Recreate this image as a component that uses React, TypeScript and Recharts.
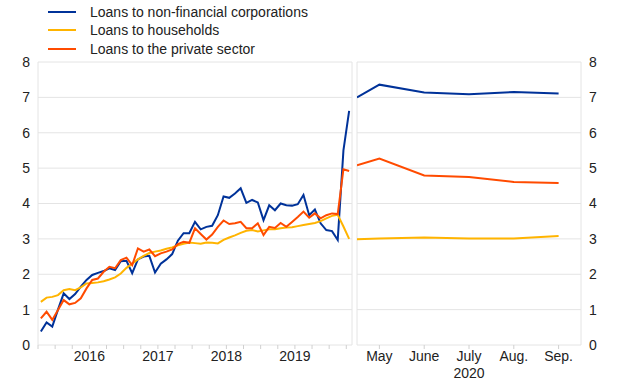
import React from 'react';
import { LineChart, Line, XAxis, YAxis, CartesianGrid } from 'recharts';

const BLUE = '#003299';
const YELLOW = '#FFB400';
const ORANGE = '#FF4B00';
const FONT = '"Liberation Sans", Arial, sans-serif';
const TEXT = '#222222';
const GRID = '#e4e4e4';

// Left panel: monthly, Oct 2015 .. Apr 2020
const leftStartYear = 2015;
const leftStartMonth = 10;
const nfcLeft = [
  0.38, 0.64, 0.52, 1.0, 1.46, 1.3, 1.44, 1.65, 1.84, 1.98,
  2.04, 2.09, 2.17, 2.12, 2.37, 2.38, 2.03, 2.42, 2.5, 2.52,
  2.05, 2.3, 2.42, 2.57, 2.95, 3.16, 3.16, 3.48, 3.27, 3.34,
  3.37, 3.67, 4.2, 4.16, 4.28, 4.43, 4.02, 4.1, 4.03, 3.53,
  3.95, 3.81, 4.0, 3.95, 3.94, 3.98, 4.24, 3.67, 3.83, 3.44,
  3.25, 3.22, 2.97, 5.5, 6.62,
];
const hhLeft = [
  1.22, 1.34, 1.36, 1.41, 1.55, 1.58, 1.55, 1.63, 1.74, 1.75,
  1.77, 1.8, 1.85, 1.91, 2.02, 2.18, 2.3, 2.42, 2.52, 2.6,
  2.64, 2.67, 2.72, 2.76, 2.82, 2.86, 2.9, 2.88, 2.86, 2.9,
  2.89, 2.87, 2.97, 3.04, 3.1, 3.17, 3.23, 3.25, 3.21, 3.24,
  3.27, 3.27, 3.3, 3.32, 3.33, 3.36, 3.39, 3.42, 3.45, 3.5,
  3.58, 3.65, 3.68, 3.35, 3.0,
];
const psLeft = [
  0.75, 0.94, 0.71, 0.99, 1.27, 1.15, 1.19, 1.32, 1.6, 1.84,
  1.88, 2.07, 2.21, 2.17, 2.4, 2.47, 2.26, 2.73, 2.64, 2.7,
  2.51, 2.59, 2.64, 2.7, 2.85, 2.92, 2.89, 3.3, 3.14, 2.98,
  3.12, 3.34, 3.52, 3.42, 3.44, 3.48, 3.3, 3.3, 3.44, 3.11,
  3.34, 3.31, 3.45, 3.34, 3.48, 3.62, 3.77, 3.6, 3.72, 3.58,
  3.67, 3.72, 3.7, 4.97, 4.92,
];
const yearLabels = ['2016', '2017', '2018', '2019'];

// Right panel: 2020, month numbers (4.5 = end of April)
const rightMonths = [4.5, 5, 6, 7, 8, 9];
const rightMonthLabels = ['May', 'June', 'July', 'Aug.', 'Sep.'];
const rightLabelMonths = [5, 6, 7, 8, 9];
const rightYearLabel = '2020';
const nfcRight = [7.0, 7.36, 7.14, 7.09, 7.15, 7.11];
const hhRight = [2.99, 3.01, 3.04, 3.01, 3.01, 3.08];
const psRight = [5.08, 5.27, 4.79, 4.75, 4.61, 4.58];

const yTicks = [0, 1, 2, 3, 4, 5, 6, 7, 8];

const legendItems = [
  { name: 'Loans to non-financial corporations', color: BLUE },
  { name: 'Loans to households', color: YELLOW },
  { name: 'Loans to the private sector', color: ORANGE },
];

const leftData = nfcLeft.map((v, i) => ({ i, nfc: v, hh: hhLeft[i], ps: psLeft[i] }));
const rightData = rightMonths.map((m, k) => ({ m, nfc: nfcRight[k], hh: hhRight[k], ps: psRight[k] }));

const n = nfcLeft.length;
// index position of 1 July of each labelled year (centre of year)
const yearCenters = yearLabels.map((y) => (Number(y) - leftStartYear) * 12 + 7 - leftStartMonth - 0.5);
const quarterTicks: number[] = [];
for (let t = -0.5; t <= n - 0.5 + 1e-9; t += 3) quarterTicks.push(t);

const LeftTick = (props: any) => {
  const { x, y, payload } = props;
  const idx = yearCenters.indexOf(payload.value);
  if (idx < 0) return <g />;
  return (
    <text x={x} y={y + 10} textAnchor="middle" fill={TEXT} fontSize={14} fontFamily={FONT}>
      {yearLabels[idx]}
    </text>
  );
};

const RightTick = (props: any) => {
  const { x, y, payload } = props;
  const idx = rightLabelMonths.indexOf(payload.value);
  if (idx < 0) return <g />;
  return (
    <g>
      <text x={x} y={y + 10} textAnchor="middle" fill={TEXT} fontSize={14} fontFamily={FONT}>
        {rightMonthLabels[idx]}
      </text>
      {payload.value === 7 && (
        <text x={x} y={y + 27} textAnchor="middle" fill={TEXT} fontSize={14} fontFamily={FONT}>
          {rightYearLabel}
        </text>
      )}
    </g>
  );
};

const borderGen = ({ offset }: any) => [offset.left, offset.left + offset.width];

const yTickStyle = { fill: TEXT, fontSize: 14, fontFamily: FONT };

export default function App() {
  return (
    <div style={{ position: 'absolute', left: 0, top: 0, width: 620, height: 387, background: '#fff', fontFamily: FONT }}>
      {legendItems.map((it, k) => (
        <div key={it.name} style={{ position: 'absolute', left: 0, top: 3 + k * 18.3, height: 18, width: 400 }}>
          <div style={{ position: 'absolute', left: 48, top: 8, width: 28, height: 2, background: it.color }} />
          <div style={{ position: 'absolute', left: 90, top: 0, fontSize: 14, lineHeight: '18px', color: TEXT, whiteSpace: 'nowrap' }}>
            {it.name}
          </div>
        </div>
      ))}

      <div style={{ position: 'absolute', left: 0, top: 0 }}>
        <LineChart width={360} height={387} data={leftData} margin={{ top: 62, right: 8, bottom: 12, left: 8 }}>
          <CartesianGrid stroke={GRID} verticalCoordinatesGenerator={borderGen} />
          <XAxis
            dataKey="i"
            type="number"
            domain={[-0.5, n - 0.5]}
            ticks={quarterTicks}
            interval={0}
            axisLine={false}
            tickLine={{ stroke: '#d0d0d0' }}
            tickSize={4}
            tickMargin={2}
            height={30}
            tick={<LeftTick />}
            allowDataOverflow
          />
          <YAxis
            domain={[0, 8]}
            ticks={yTicks}
            interval={0}
            axisLine={false}
            tickLine={false}
            tickSize={0}
            tickMargin={8}
            width={30}
            tick={yTickStyle}
          />
          <Line type="linear" dataKey="nfc" stroke={BLUE} strokeWidth={2} dot={false} isAnimationActive={false} />
          <Line type="linear" dataKey="hh" stroke={YELLOW} strokeWidth={2} dot={false} isAnimationActive={false} />
          <Line type="linear" dataKey="ps" stroke={ORANGE} strokeWidth={2} dot={false} isAnimationActive={false} />
        </LineChart>
      </div>

      <div style={{ position: 'absolute', left: 350, top: 0 }}>
        <LineChart width={270} height={387} data={rightData} margin={{ top: 62, right: 9, bottom: 12, left: 7 }}>
          <CartesianGrid stroke={GRID} verticalCoordinatesGenerator={borderGen} />
          <XAxis
            dataKey="m"
            type="number"
            domain={[4.5, 9.5]}
            ticks={rightLabelMonths}
            interval={0}
            axisLine={false}
            tickLine={{ stroke: '#d0d0d0' }}
            tickSize={4}
            tickMargin={2}
            height={30}
            tick={<RightTick />}
            allowDataOverflow
          />
          <YAxis
            orientation="right"
            domain={[0, 8]}
            ticks={yTicks}
            interval={0}
            axisLine={false}
            tickLine={false}
            tickSize={0}
            tickMargin={8}
            width={30}
            tick={yTickStyle}
          />
          <Line type="linear" dataKey="nfc" stroke={BLUE} strokeWidth={2} dot={false} isAnimationActive={false} />
          <Line type="linear" dataKey="hh" stroke={YELLOW} strokeWidth={2} dot={false} isAnimationActive={false} />
          <Line type="linear" dataKey="ps" stroke={ORANGE} strokeWidth={2} dot={false} isAnimationActive={false} />
        </LineChart>
      </div>
    </div>
  );
}
